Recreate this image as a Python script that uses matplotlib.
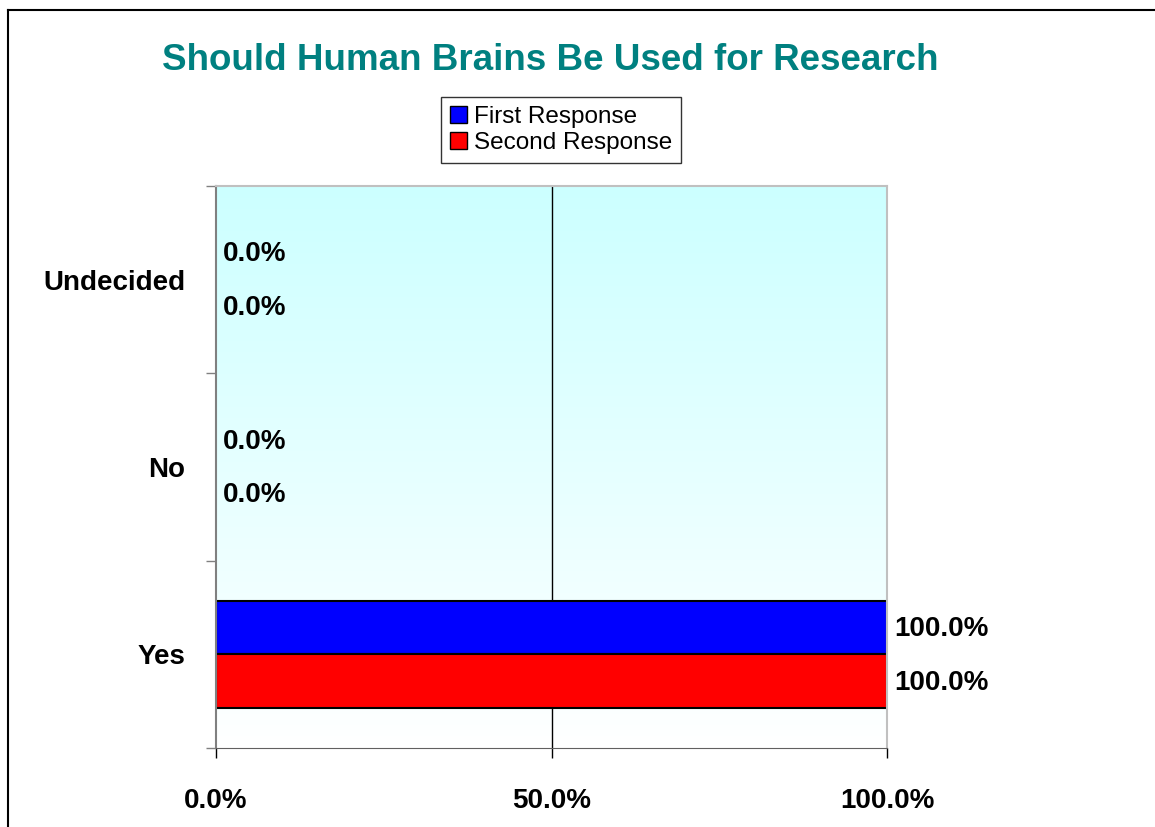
import numpy as np
import matplotlib.pyplot as plt
from matplotlib.lines import Line2D
from matplotlib.patches import Patch
from matplotlib.ticker import FuncFormatter, FixedLocator

categories = ["Yes", "No", "Undecided"]
first_response = [100.0, 0.0, 0.0]
second_response = [100.0, 0.0, 0.0]
series_names = ["First Response", "Second Response"]
x_ticks = [0, 50, 100]

plt.rcParams["font.family"] = ["Liberation Sans", "DejaVu Sans"]

W, H = 1155, 827
fig = plt.figure(figsize=(W / 100, H / 100), dpi=100)
ax = fig.add_axes([216 / W, 1 - 748 / H, (887 - 216) / W, (748 - 186) / H])

# gradient background: light cyan at top fading to white
grad = np.linspace(0, 1, 256).reshape(-1, 1)
top = np.array([0.80, 1.0, 1.0])
bot = np.array([1.0, 1.0, 1.0])
img = bot + (top - bot) * grad[:, :, None] * np.ones((1, 1, 3))
ax.imshow(img, extent=[0, 100, -0.5, 2.5], origin="lower", aspect="auto", zorder=0)

y = np.arange(len(categories))
h = 0.286
b1 = ax.barh(y + h / 2, first_response, height=h, color="#0000FF",
             edgecolor="black", linewidth=1.5, zorder=3)
b2 = ax.barh(y - h / 2, second_response, height=h, color="#FF0000",
             edgecolor="black", linewidth=1.5, zorder=3)

for bars, vals in ((b1, first_response), (b2, second_response)):
    for rect, v in zip(bars, vals):
        if v == 0:
            rect.set_linewidth(0)
        ax.annotate(f"{v:.1f}%", (v, rect.get_y() + rect.get_height() / 2),
                    xytext=(5, -1), textcoords="offset points",
                    ha="left", va="center", fontsize=20, fontweight="bold",
                    zorder=5, annotation_clip=False)

ax.set_xlim(0, 100)
ax.set_ylim(-0.5, 2.5)
ax.axvline(50, color="black", linewidth=1, zorder=1)

ax.xaxis.set_major_locator(FixedLocator(x_ticks))
ax.xaxis.set_major_formatter(FuncFormatter(lambda v, p: f"{v:.1f}%"))
ax.tick_params(axis="x", length=7, width=1, color="black", pad=22,
               labelsize=20)
for lab in ax.get_xticklabels():
    lab.set_fontweight("bold")

ax.set_yticks(y)
ax.set_yticklabels(categories, fontsize=20, fontweight="bold")
ax.set_yticks([-0.5, 0.5, 1.5, 2.5], minor=True)
ax.tick_params(axis="y", which="major", length=0, pad=22)
ax.tick_params(axis="y", which="minor", length=7, width=1, color="#808080")

for side in ax.spines.values():
    side.set_zorder(6)
ax.spines["left"].set_color("#808080")
ax.spines["left"].set_linewidth(1.5)
ax.spines["bottom"].set_color("#606060")
ax.spines["top"].set_color("#C0C0C0")
ax.spines["right"].set_color("#C0C0C0")
ax.spines["top"].set_linewidth(1.5)
ax.spines["right"].set_linewidth(1.5)

fig.text(550 / W, 1 - 60 / H, "Should Human Brains Be Used for Research",
         ha="center", va="center", fontsize=26.5, fontweight="bold",
         color="#008080")

handles = [Patch(facecolor="#0000FF", edgecolor="black"),
           Patch(facecolor="#FF0000", edgecolor="black")]
leg = fig.legend(handles, series_names, loc="center",
                 bbox_to_anchor=(561 / W, 1 - 130 / H), fontsize=17.5,
                 frameon=True, fancybox=False, edgecolor="black",
                 handlelength=0.7, handleheight=0.7, handletextpad=0.3,
                 borderpad=0.35, labelspacing=0.2, borderaxespad=0)
leg.get_frame().set_linewidth(1)

# outer chart border (left and top edges visible)
fig.add_artist(Line2D([8 / W, 8 / W], [0, 1 - 10 / H], color="black", linewidth=1.5))
fig.add_artist(Line2D([8 / W, 1], [1 - 10 / H, 1 - 10 / H], color="black", linewidth=1.5))

fig.savefig("out.png", dpi=100)
